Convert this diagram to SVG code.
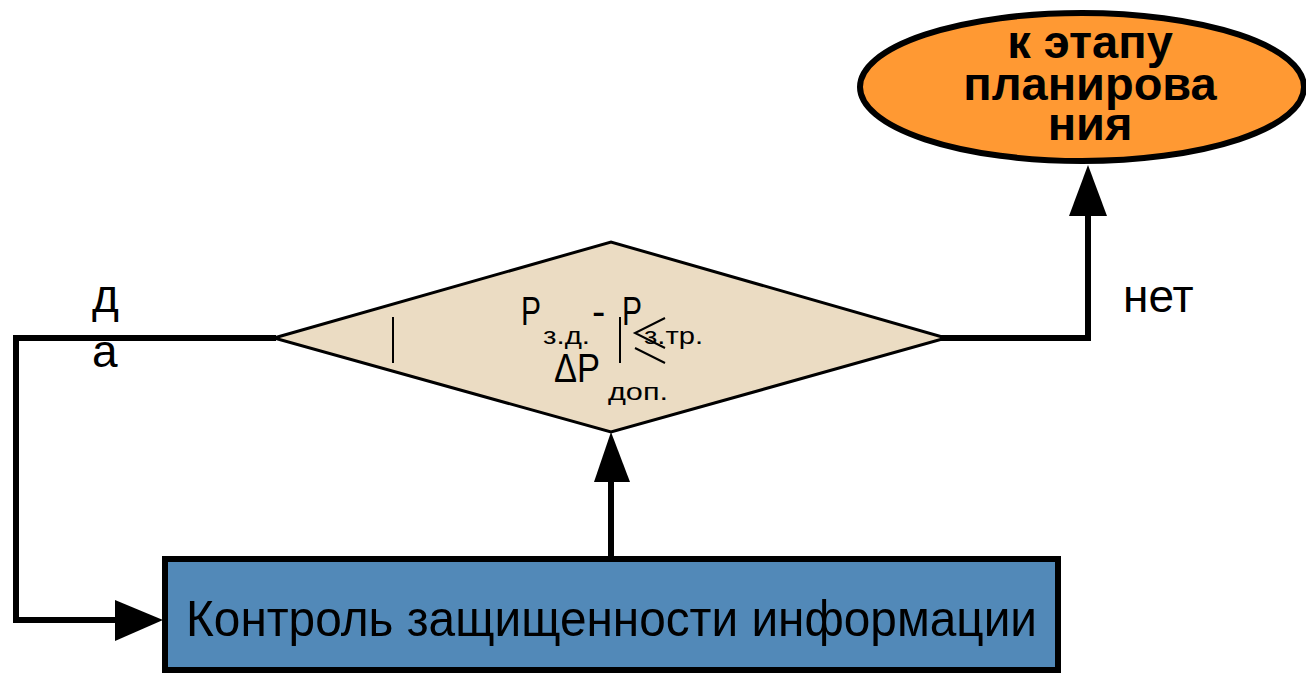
<svg xmlns="http://www.w3.org/2000/svg" width="1306" height="673" viewBox="0 0 1306 673">
<defs>
<style>
.t{font-family:"Liberation Sans",Arial,sans-serif;fill:#000}
.f{font-family:"Liberation Sans",Arial,sans-serif;fill:#000}
.c{fill:none;stroke:#000;stroke-width:6}
.thin{stroke:#000;stroke-width:2;fill:none}
</style>
</defs>
<rect width="1306" height="673" fill="#fff"/>
<g id="connectors">
<polyline class="c" points="940,338 1088,338 1088,214"/>
<polygon points="1088,165 1069,216 1107,216" fill="#000"/>
<polyline class="c" points="611,557 611,480"/>
<polygon points="611,432 594,482 630,482" fill="#000"/>
<polyline class="c" points="276,338 16,338 16,620 118,620"/>
<polygon points="163,620 115,600 115,641" fill="#000"/>
</g>
<g id="decision">
<polygon points="274,338 611,242 946,338 611,432" fill="#EBDCC3" stroke="#000" stroke-width="3"/>
<line class="thin" x1="393" y1="317" x2="393" y2="363"/>
<line class="thin" x1="620" y1="317" x2="620" y2="363"/>
<polyline class="thin" points="665,318 635,333 665,348"/>
<line class="thin" x1="635" y1="348" x2="665" y2="363"/>
<text class="f" x="521" y="325" font-size="40" textLength="20" lengthAdjust="spacingAndGlyphs">P</text>
<text class="f" x="543" y="344" font-size="24" textLength="47" lengthAdjust="spacingAndGlyphs">з.д.</text>
<text class="f" x="592" y="325" font-size="40">-</text>
<text class="f" x="622" y="325" font-size="40" textLength="20" lengthAdjust="spacingAndGlyphs">P</text>
<text class="f" x="644" y="344" font-size="24" textLength="59" lengthAdjust="spacingAndGlyphs">з.тр.</text>
<text class="f" x="554" y="382" font-size="40" textLength="46" lengthAdjust="spacingAndGlyphs">ΔP</text>
<text class="f" x="608" y="400" font-size="24" textLength="60" lengthAdjust="spacingAndGlyphs">доп.</text>
</g>
<g id="end">
<ellipse cx="1082" cy="87" rx="222" ry="74" fill="#FF9933" stroke="#000" stroke-width="6"/>
<text class="t" x="1090" y="58" font-size="47" font-weight="bold" text-anchor="middle">к этапу</text>
<text class="t" x="1090" y="100" font-size="47" font-weight="bold" text-anchor="middle">планирова</text>
<text class="t" x="1090" y="140" font-size="47" font-weight="bold" text-anchor="middle">ния</text>
</g>
<g id="process">
<rect x="165" y="559" width="893" height="111" fill="#5289B8" stroke="#000" stroke-width="6"/>
<text class="t" x="186" y="636" font-size="50" textLength="851" lengthAdjust="spacingAndGlyphs">Контроль защищенности информации</text>
</g>
<g id="labels">
<text class="t" x="1123" y="312" font-size="46">нет</text>
<text class="t" x="92" y="312" font-size="46">д</text>
<text class="t" x="92" y="367" font-size="46">а</text>
</g>
</svg>
